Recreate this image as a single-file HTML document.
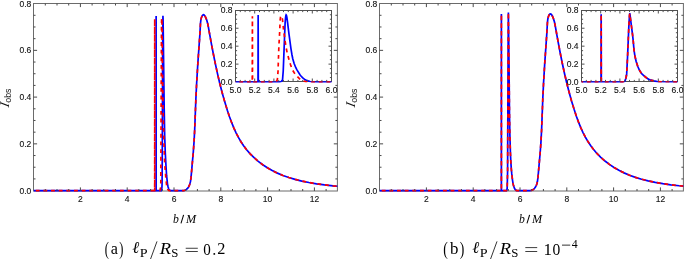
<!DOCTYPE html>
<html><head><meta charset="utf-8"><title>figure</title><style>
html,body{margin:0;padding:0;background:#fff;width:685px;height:259px;overflow:hidden}
svg{display:block;will-change:transform}
.tl{font-family:"Liberation Sans",sans-serif;font-size:8.5px;fill:#111;stroke:#111;stroke-width:0.12px}
.il{font-family:"Liberation Sans",sans-serif;font-size:8.5px;fill:#111;stroke:#111;stroke-width:0.12px}
.ax{font-family:"Liberation Serif",serif;font-style:italic;font-size:13.4px;fill:#111}
.sub{font-family:"Liberation Sans",sans-serif;font-style:normal;font-size:8.8px}
</style></head><body>
<svg width="685" height="259" viewBox="0 0 685 259">
<clipPath id="cma"><rect x="33.5" y="1.5" width="303.9" height="190.5"/></clipPath>
<clipPath id="cia"><rect x="235.5" y="8.5" width="96" height="74"/></clipPath>
<rect x="33.5" y="3.5" width="303.9" height="187.5" fill="none" stroke="#6b6b6b" stroke-width="1"/>
<g clip-path="url(#cma)" fill="none" stroke-width="1.7">
<path stroke="#00f" d="M33.6 190.6L156.09 190.6 156.12 15.99 156.16 190.6 161.32 190.55 161.7 189.27 161.91 187.51 162.03 185.53 162.1 180.3 162.27 153.78 162.69 37.1 162.94 15.76 163.07 18.91 163.2 27.99 164.17 107.37 164.7 136.01 165.29 153.13 166.07 167.53 166.58 175.19 167.48 183.79 168.05 186.77 168.75 189.11 169.01 189.58 169.39 189.95 169.93 190.35 170.42 190.56 183.25 190.57 184.48 190.35 185.47 190.01 186.37 189.5 187.22 188.76 187.96 187.88 188.6 186.9 189.21 185.69 189.75 184.3 190.52 181.37 191.02 177.69 193.31 151.93 194.08 141.27 194.72 129.04 195.84 99.72 196.61 83.72 197.81 63.86 199.82 35.24 200.48 23.37 200.87 19.91 201.48 17.41 201.94 16.31 202.44 15.48 202.95 14.96 203.48 14.76 203.93 14.88 204.37 15.25 204.88 15.93 205.4 16.86 206.56 19.6 207.47 22.64 208.17 25.89 211.03 41.8 213.35 53.98 215.42 64.2 217.49 73.69 219.79 83.45 222.18 92.72 224.68 101.61 227.31 110.19 229.51 116.8 231.68 122.68 233.9 128.1 236.18 133.04 238.57 137.64 241.1 141.95 243.79 145.98 246.62 149.72 250.21 153.84 254.08 157.71 258.28 161.37 262.72 164.74 267.38 167.81 272.22 170.58 277.44 173.13 282.96 175.43 288.82 177.51 295.09 179.39 301.75 181.05 308.91 182.53 316.53 183.83 324.54 184.92 333.05 185.84 342.44 186.61"/>
<path stroke="#f00" stroke-dasharray="3.85 3.8" stroke-dashoffset="5.5" d="M33.6 190.6L154.68 190.6 154.72 19.03 154.75 190.6 159.84 190.6 159.94 190.53 160.39 189.1 160.62 187.53 160.77 185.19 160.83 181.41 161.48 30.03 161.57 21.45 161.74 18.09 161.91 20.85 162.07 28.48 162.48 68.17 163 104.5 163.93 142.24 164.38 156.26 164.86 165.6 165.77 177.31 166.55 184.53 167.12 187.4 167.67 189.23 167.88 189.62 168.35 190.11 168.77 190.43 169.15 190.58 183.17 190.57 184.4 190.37 185.47 190.01 186.37 189.5 187.22 188.76 187.96 187.88 188.6 186.9 189.21 185.69 189.75 184.3 190.52 181.37 191.02 177.69 193.31 151.93 194.08 141.27 194.72 129.04 195.84 99.72 196.61 83.72 197.81 63.86 199.82 35.24 200.48 23.37 200.87 19.91 201.48 17.41 201.94 16.31 202.44 15.48 202.95 14.96 203.48 14.76 203.93 14.88 204.37 15.25 204.88 15.93 205.4 16.86 206.56 19.6 207.47 22.64 208.17 25.89 211.03 41.8 213.35 53.98 215.42 64.2 217.49 73.69 219.79 83.45 222.18 92.72 224.68 101.61 227.31 110.19 229.51 116.8 231.68 122.68 233.9 128.1 236.18 133.04 238.57 137.64 241.1 141.95 243.79 145.98 246.62 149.72 250.21 153.84 254.08 157.71 258.28 161.37 262.72 164.74 267.38 167.81 272.22 170.58 277.44 173.13 282.96 175.43 288.82 177.51 295.09 179.39 301.75 181.05 308.91 182.53 316.53 183.83 324.54 184.92 333.05 185.84 342.44 186.61"/>
</g>
<path d="M45.3 191v-2.0M45.3 3.5v2.0M57 191v-2.0M57 3.5v2.0M68.7 191v-2.0M68.7 3.5v2.0M80.4 191v-3.6M80.4 3.5v3.6M92.1 191v-2.0M92.1 3.5v2.0M103.8 191v-2.0M103.8 3.5v2.0M115.5 191v-2.0M115.5 3.5v2.0M127.2 191v-3.6M127.2 3.5v3.6M138.9 191v-2.0M138.9 3.5v2.0M150.6 191v-2.0M150.6 3.5v2.0M162.3 191v-2.0M162.3 3.5v2.0M174 191v-3.6M174 3.5v3.6M185.7 191v-2.0M185.7 3.5v2.0M197.4 191v-2.0M197.4 3.5v2.0M209.1 191v-2.0M209.1 3.5v2.0M220.8 191v-3.6M220.8 3.5v3.6M232.5 191v-2.0M232.5 3.5v2.0M244.2 191v-2.0M244.2 3.5v2.0M255.9 191v-2.0M255.9 3.5v2.0M267.6 191v-3.6M267.6 3.5v3.6M279.3 191v-2.0M279.3 3.5v2.0M291 191v-2.0M291 3.5v2.0M302.7 191v-2.0M302.7 3.5v2.0M314.4 191v-3.6M314.4 3.5v3.6M326.1 191v-2.0M326.1 3.5v2.0M33.5 178.91h2.0M337.4 178.91h-2.0M33.5 167.22h2.0M337.4 167.22h-2.0M33.5 155.54h2.0M337.4 155.54h-2.0M33.5 143.85h3.6M337.4 143.85h-3.6M33.5 132.16h2.0M337.4 132.16h-2.0M33.5 120.47h2.0M337.4 120.47h-2.0M33.5 108.79h2.0M337.4 108.79h-2.0M33.5 97.1h3.6M337.4 97.1h-3.6M33.5 85.41h2.0M337.4 85.41h-2.0M33.5 73.72h2.0M337.4 73.72h-2.0M33.5 62.04h2.0M337.4 62.04h-2.0M33.5 50.35h3.6M337.4 50.35h-3.6M33.5 38.66h2.0M337.4 38.66h-2.0M33.5 26.97h2.0M337.4 26.97h-2.0M33.5 15.29h2.0M337.4 15.29h-2.0" stroke="#4a4a4a" stroke-width="1" fill="none"/>
<text x="31.3" y="194" class="tl" text-anchor="end">0.0</text>
<text x="31.3" y="147" class="tl" text-anchor="end">0.2</text>
<text x="31.3" y="100" class="tl" text-anchor="end">0.4</text>
<text x="31.3" y="53" class="tl" text-anchor="end">0.6</text>
<text x="31.3" y="6.5" class="tl" text-anchor="end">0.8</text>
<text x="80.4" y="201.7" class="tl" text-anchor="middle">2</text>
<text x="127.2" y="201.7" class="tl" text-anchor="middle">4</text>
<text x="174" y="201.7" class="tl" text-anchor="middle">6</text>
<text x="220.8" y="201.7" class="tl" text-anchor="middle">8</text>
<text x="267.6" y="201.7" class="tl" text-anchor="middle">10</text>
<text x="314.4" y="201.7" class="tl" text-anchor="middle">12</text>
<rect x="235" y="10" width="97" height="72" fill="#fff"/>
<rect x="235.5" y="10.5" width="96" height="71" fill="none" stroke="#505050" stroke-width="1"/>
<g clip-path="url(#cia)" fill="none" stroke-width="1.7">
<path stroke="#00f" d="M231.66 82.05L258.01 82.05 258.16 15.04 258.3 82.05 279.34 82.05 280.11 81.9 281.05 81.54 281.52 81.25 281.91 80.86 282.37 80.1 282.61 78.8 283.23 70.98 285.1 23.15 285.57 17.51 285.88 15.58 286.11 14.96 286.35 15.27 286.58 15.88 286.89 17.5 287.59 22.57 288.92 33.67 290.95 48.55 291.96 54.75 292.82 59.02 294.14 63.59 295.7 67.5 296.94 69.88 300.14 74.98 301 76.05 302.48 77.57 303.72 78.68 304.81 79.49 305.83 80.06 307.23 80.64 310.03 81.49 312.76 81.81 316.81 82.03 334.22 82.05"/>
<path stroke="#f00" stroke-dasharray="3.85 3.8" stroke-dashoffset="0.0" d="M231.66 82.05L252.25 82.05 252.4 16.21 252.54 82.05 273.58 82.05 274.51 81.88 275.84 81.41 276.46 81.02 276.93 80.52 277.24 79.98 277.47 78.52 278.02 71.46 278.87 46.6 279.73 30.85 280.12 20.43 280.51 17.14 280.9 16.13 281.21 15.85 281.52 16.13 281.91 16.91 282.46 19.34 283.47 28.8 284.8 39.07 286.12 47.71 287.29 53.34 289.08 59.89 290.56 64.73 291.65 67.9 292.35 69.58 293.13 71.06 294.07 72.57 295.16 74.06 298.2 77.43 299.37 78.54 300.46 79.41 301.47 80.03 302.87 80.66 304.27 81.19 305.6 81.54 308.48 81.88 311.68 82.04 334.22 82.05"/>
</g>
<path d="M240.3 81.5v-1.6M240.3 10.5v1.6M245.1 81.5v-1.6M245.1 10.5v1.6M249.9 81.5v-1.6M249.9 10.5v1.6M254.7 81.5v-3.0M254.7 10.5v3.0M259.5 81.5v-1.6M259.5 10.5v1.6M264.3 81.5v-1.6M264.3 10.5v1.6M269.1 81.5v-1.6M269.1 10.5v1.6M273.9 81.5v-3.0M273.9 10.5v3.0M278.7 81.5v-1.6M278.7 10.5v1.6M283.5 81.5v-1.6M283.5 10.5v1.6M288.3 81.5v-1.6M288.3 10.5v1.6M293.1 81.5v-3.0M293.1 10.5v3.0M297.9 81.5v-1.6M297.9 10.5v1.6M302.7 81.5v-1.6M302.7 10.5v1.6M307.5 81.5v-1.6M307.5 10.5v1.6M312.3 81.5v-3.0M312.3 10.5v3.0M317.1 81.5v-1.6M317.1 10.5v1.6M321.9 81.5v-1.6M321.9 10.5v1.6M326.7 81.5v-1.6M326.7 10.5v1.6M235.5 77.56h1.6M331.5 77.56h-1.6M235.5 73.08h1.6M331.5 73.08h-1.6M235.5 68.59h1.6M331.5 68.59h-1.6M235.5 64.11h3.0M331.5 64.11h-3.0M235.5 59.62h1.6M331.5 59.62h-1.6M235.5 55.14h1.6M331.5 55.14h-1.6M235.5 50.65h1.6M331.5 50.65h-1.6M235.5 46.17h3.0M331.5 46.17h-3.0M235.5 41.68h1.6M331.5 41.68h-1.6M235.5 37.2h1.6M331.5 37.2h-1.6M235.5 32.71h1.6M331.5 32.71h-1.6M235.5 28.23h3.0M331.5 28.23h-3.0M235.5 23.74h1.6M331.5 23.74h-1.6M235.5 19.26h1.6M331.5 19.26h-1.6M235.5 14.77h1.6M331.5 14.77h-1.6" stroke="#505050" stroke-width="1" fill="none"/>
<text transform="translate(232.5 85.35) scale(1.0 1)" class="il" text-anchor="end">0.0</text>
<text transform="translate(232.5 67.37) scale(1.0 1)" class="il" text-anchor="end">0.2</text>
<text transform="translate(232.5 49.39) scale(1.0 1)" class="il" text-anchor="end">0.4</text>
<text transform="translate(232.5 31.41) scale(1.0 1)" class="il" text-anchor="end">0.6</text>
<text transform="translate(232.5 13.43) scale(1.0 1)" class="il" text-anchor="end">0.8</text>
<text transform="translate(235.5 92.9) scale(1.0 1)" class="il" text-anchor="middle">5.0</text>
<text transform="translate(254.7 92.9) scale(1.0 1)" class="il" text-anchor="middle">5.2</text>
<text transform="translate(273.9 92.9) scale(1.0 1)" class="il" text-anchor="middle">5.4</text>
<text transform="translate(293.1 92.9) scale(1.0 1)" class="il" text-anchor="middle">5.6</text>
<text transform="translate(312.3 92.9) scale(1.0 1)" class="il" text-anchor="middle">5.8</text>
<text transform="translate(331.5 92.9) scale(1.0 1)" class="il" text-anchor="middle">6.0</text>
<g transform="translate(8.5 106.4) rotate(-90)"><text class="ax" transform="translate(-1.3 0) skewX(-12)">I</text><text class="ax sub" x="3.7" y="2.5">obs</text></g>
<text transform="matrix(0.11708 0 0 0.11654 173.08 222.99)" style="font-family:&quot;Liberation Serif&quot;,serif;font-style:italic;font-size:100px" fill="#000">b</text>
<path d="M183.6 214.9L181 223.3" stroke="#000" stroke-width="1.05"/>
<text transform="matrix(0.12194 0 0 0.12218 185.94 223.10)" style="font-family:&quot;Liberation Serif&quot;,serif;font-style:italic;font-size:100px" fill="#000">M</text>
<clipPath id="cmb"><rect x="379.5" y="1.5" width="303.9" height="190.5"/></clipPath>
<clipPath id="cib"><rect x="581.5" y="8.5" width="96" height="74"/></clipPath>
<rect x="379.5" y="3.5" width="303.9" height="187.5" fill="none" stroke="#6b6b6b" stroke-width="1"/>
<g clip-path="url(#cmb)" fill="none" stroke-width="1.7">
<path stroke="#00f" d="M379.6 190.6L501.36 190.6 501.4 14.12 501.43 190.6 506.55 190.6 506.67 190.51 507.05 189.39 507.21 187.17 507.59 171.58 508.15 42.19 508.38 12.58 509.03 65.54 509.51 115.65 509.86 134.32 510.45 153.63 510.82 161.59 511.28 168.54 511.78 173.91 512.51 180.12 513.01 183.42 513.49 185.61 514.41 188.21 514.85 189.07 515.29 189.64 516.23 190.37 516.94 190.6 529.79 190.6 531.04 190.44 532.07 190.15 532.94 189.74 533.77 189.12 534.56 188.3 535.29 187.29 535.94 186.1 536.53 184.71 537.02 183.22 537.41 181.55 537.98 177.39 540.22 152.05 540.95 142.12 541.64 129.04 542.77 99.27 543.55 83.03 544.75 63.15 546.75 34.47 547.43 22.45 547.82 18.96 548.45 16.46 548.87 15.44 549.38 14.6 549.89 14.08 550.42 13.88 550.86 14.01 551.3 14.37 551.81 15.05 552.33 15.99 553.49 18.74 554.41 21.8 555.1 25.07 557.97 41.06 560.27 53.22 562.34 63.49 564.39 72.95 566.69 82.76 569.06 92.01 571.55 100.94 574.17 109.56 576.37 116.21 578.53 122.12 580.75 127.57 583.01 132.54 585.43 137.23 587.96 141.58 590.59 145.57 593.41 149.33 596.93 153.43 600.79 157.34 604.98 161.03 609.4 164.43 614.05 167.54 618.88 170.33 624.02 172.88 629.53 175.22 635.39 177.33 641.58 179.21 648.15 180.88 655.23 182.38 662.78 183.69 670.71 184.8 679.14 185.73 688.44 186.52"/>
<path stroke="#f00" stroke-dasharray="3.85 3.8" stroke-dashoffset="5.5" d="M379.6 190.6L501.36 190.6 501.4 14.12 501.43 190.6 506.55 190.6 506.67 190.51 507.05 189.39 507.21 187.17 507.59 171.58 508.15 42.19 508.38 12.58 509.03 65.54 509.51 115.65 509.86 134.32 510.45 153.63 510.82 161.59 511.28 168.54 511.78 173.91 512.51 180.12 513.01 183.42 513.49 185.61 514.41 188.21 514.85 189.07 515.29 189.64 516.23 190.37 516.94 190.6 529.79 190.6 531.04 190.44 532.07 190.15 532.94 189.74 533.77 189.12 534.56 188.3 535.29 187.29 535.94 186.1 536.53 184.71 537.02 183.22 537.41 181.55 537.98 177.39 540.22 152.05 540.95 142.12 541.64 129.04 542.77 99.27 543.55 83.03 544.75 63.15 546.75 34.47 547.43 22.45 547.82 18.96 548.45 16.46 548.87 15.44 549.38 14.6 549.89 14.08 550.42 13.88 550.86 14.01 551.3 14.37 551.81 15.05 552.33 15.99 553.49 18.74 554.41 21.8 555.1 25.07 557.97 41.06 560.27 53.22 562.34 63.49 564.39 72.95 566.69 82.76 569.06 92.01 571.55 100.94 574.17 109.56 576.37 116.21 578.53 122.12 580.75 127.57 583.01 132.54 585.43 137.23 587.96 141.58 590.59 145.57 593.41 149.33 596.93 153.43 600.79 157.34 604.98 161.03 609.4 164.43 614.05 167.54 618.88 170.33 624.02 172.88 629.53 175.22 635.39 177.33 641.58 179.21 648.15 180.88 655.23 182.38 662.78 183.69 670.71 184.8 679.14 185.73 688.44 186.52"/>
</g>
<path d="M391.3 191v-2.0M391.3 3.5v2.0M403 191v-2.0M403 3.5v2.0M414.7 191v-2.0M414.7 3.5v2.0M426.4 191v-3.6M426.4 3.5v3.6M438.1 191v-2.0M438.1 3.5v2.0M449.8 191v-2.0M449.8 3.5v2.0M461.5 191v-2.0M461.5 3.5v2.0M473.2 191v-3.6M473.2 3.5v3.6M484.9 191v-2.0M484.9 3.5v2.0M496.6 191v-2.0M496.6 3.5v2.0M508.3 191v-2.0M508.3 3.5v2.0M520 191v-3.6M520 3.5v3.6M531.7 191v-2.0M531.7 3.5v2.0M543.4 191v-2.0M543.4 3.5v2.0M555.1 191v-2.0M555.1 3.5v2.0M566.8 191v-3.6M566.8 3.5v3.6M578.5 191v-2.0M578.5 3.5v2.0M590.2 191v-2.0M590.2 3.5v2.0M601.9 191v-2.0M601.9 3.5v2.0M613.6 191v-3.6M613.6 3.5v3.6M625.3 191v-2.0M625.3 3.5v2.0M637 191v-2.0M637 3.5v2.0M648.7 191v-2.0M648.7 3.5v2.0M660.4 191v-3.6M660.4 3.5v3.6M672.1 191v-2.0M672.1 3.5v2.0M379.5 178.91h2.0M683.4 178.91h-2.0M379.5 167.22h2.0M683.4 167.22h-2.0M379.5 155.54h2.0M683.4 155.54h-2.0M379.5 143.85h3.6M683.4 143.85h-3.6M379.5 132.16h2.0M683.4 132.16h-2.0M379.5 120.47h2.0M683.4 120.47h-2.0M379.5 108.79h2.0M683.4 108.79h-2.0M379.5 97.1h3.6M683.4 97.1h-3.6M379.5 85.41h2.0M683.4 85.41h-2.0M379.5 73.72h2.0M683.4 73.72h-2.0M379.5 62.04h2.0M683.4 62.04h-2.0M379.5 50.35h3.6M683.4 50.35h-3.6M379.5 38.66h2.0M683.4 38.66h-2.0M379.5 26.97h2.0M683.4 26.97h-2.0M379.5 15.29h2.0M683.4 15.29h-2.0" stroke="#4a4a4a" stroke-width="1" fill="none"/>
<text x="377.3" y="194" class="tl" text-anchor="end">0.0</text>
<text x="377.3" y="147" class="tl" text-anchor="end">0.2</text>
<text x="377.3" y="100" class="tl" text-anchor="end">0.4</text>
<text x="377.3" y="53" class="tl" text-anchor="end">0.6</text>
<text x="377.3" y="6.5" class="tl" text-anchor="end">0.8</text>
<text x="426.4" y="201.7" class="tl" text-anchor="middle">2</text>
<text x="473.2" y="201.7" class="tl" text-anchor="middle">4</text>
<text x="520" y="201.7" class="tl" text-anchor="middle">6</text>
<text x="566.8" y="201.7" class="tl" text-anchor="middle">8</text>
<text x="613.6" y="201.7" class="tl" text-anchor="middle">10</text>
<text x="660.4" y="201.7" class="tl" text-anchor="middle">12</text>
<rect x="581" y="10" width="97" height="72" fill="#fff"/>
<rect x="581.5" y="10.5" width="96" height="71" fill="none" stroke="#505050" stroke-width="1"/>
<g clip-path="url(#cib)" fill="none" stroke-width="1.7">
<path stroke="#00f" d="M577.66 82.05L601.04 82.05 601.18 14.33 601.32 82.05 622.47 82.05 623.93 81.75 624.44 81.53 624.7 81.29 625.3 80.14 625.81 78.49 626.41 75.77 626.67 73.89 627.52 57.36 628.89 25.1 629.49 15.65 629.66 14.08 629.75 13.74 629.83 13.74 630.09 15.06 630.52 18.97 632.57 34.79 633.17 40.32 634.03 50.25 634.97 56.29 636.17 61.41 637.8 66.56 639.17 69.71 640.11 71.33 641.05 72.72 642.16 74.08 643.27 75.19 645.42 77.01 647.38 78.43 648.75 79.25 650.12 79.89 653.72 80.94 657.4 81.6 662.88 82 680.28 82.05"/>
<path stroke="#f00" stroke-dasharray="3.85 3.8" stroke-dashoffset="6.0" d="M577.66 82.05L601.04 82.05 601.18 14.33 601.32 82.05 622.47 82.05 623.93 81.75 624.44 81.53 624.7 81.29 625.3 80.14 625.81 78.49 626.41 75.77 626.67 73.89 627.52 57.36 628.89 25.1 629.49 15.65 629.66 14.08 629.75 13.74 629.83 13.74 630.09 15.06 630.52 18.97 632.57 34.79 633.17 40.32 634.03 50.25 634.97 56.29 636.17 61.41 637.8 66.56 639.17 69.71 640.11 71.33 641.05 72.72 642.16 74.08 643.27 75.19 645.42 77.01 647.38 78.43 648.75 79.25 650.12 79.89 653.72 80.94 657.4 81.6 662.88 82 680.28 82.05"/>
</g>
<path d="M586.3 81.5v-1.6M586.3 10.5v1.6M591.1 81.5v-1.6M591.1 10.5v1.6M595.9 81.5v-1.6M595.9 10.5v1.6M600.7 81.5v-3.0M600.7 10.5v3.0M605.5 81.5v-1.6M605.5 10.5v1.6M610.3 81.5v-1.6M610.3 10.5v1.6M615.1 81.5v-1.6M615.1 10.5v1.6M619.9 81.5v-3.0M619.9 10.5v3.0M624.7 81.5v-1.6M624.7 10.5v1.6M629.5 81.5v-1.6M629.5 10.5v1.6M634.3 81.5v-1.6M634.3 10.5v1.6M639.1 81.5v-3.0M639.1 10.5v3.0M643.9 81.5v-1.6M643.9 10.5v1.6M648.7 81.5v-1.6M648.7 10.5v1.6M653.5 81.5v-1.6M653.5 10.5v1.6M658.3 81.5v-3.0M658.3 10.5v3.0M663.1 81.5v-1.6M663.1 10.5v1.6M667.9 81.5v-1.6M667.9 10.5v1.6M672.7 81.5v-1.6M672.7 10.5v1.6M581.5 77.56h1.6M677.5 77.56h-1.6M581.5 73.08h1.6M677.5 73.08h-1.6M581.5 68.59h1.6M677.5 68.59h-1.6M581.5 64.11h3.0M677.5 64.11h-3.0M581.5 59.62h1.6M677.5 59.62h-1.6M581.5 55.14h1.6M677.5 55.14h-1.6M581.5 50.65h1.6M677.5 50.65h-1.6M581.5 46.17h3.0M677.5 46.17h-3.0M581.5 41.68h1.6M677.5 41.68h-1.6M581.5 37.2h1.6M677.5 37.2h-1.6M581.5 32.71h1.6M677.5 32.71h-1.6M581.5 28.23h3.0M677.5 28.23h-3.0M581.5 23.74h1.6M677.5 23.74h-1.6M581.5 19.26h1.6M677.5 19.26h-1.6M581.5 14.77h1.6M677.5 14.77h-1.6" stroke="#505050" stroke-width="1" fill="none"/>
<text transform="translate(578.5 85.35) scale(1.0 1)" class="il" text-anchor="end">0.0</text>
<text transform="translate(578.5 67.37) scale(1.0 1)" class="il" text-anchor="end">0.2</text>
<text transform="translate(578.5 49.39) scale(1.0 1)" class="il" text-anchor="end">0.4</text>
<text transform="translate(578.5 31.41) scale(1.0 1)" class="il" text-anchor="end">0.6</text>
<text transform="translate(578.5 13.43) scale(1.0 1)" class="il" text-anchor="end">0.8</text>
<text transform="translate(581.5 92.9) scale(1.0 1)" class="il" text-anchor="middle">5.0</text>
<text transform="translate(600.7 92.9) scale(1.0 1)" class="il" text-anchor="middle">5.2</text>
<text transform="translate(619.9 92.9) scale(1.0 1)" class="il" text-anchor="middle">5.4</text>
<text transform="translate(639.1 92.9) scale(1.0 1)" class="il" text-anchor="middle">5.6</text>
<text transform="translate(658.3 92.9) scale(1.0 1)" class="il" text-anchor="middle">5.8</text>
<text transform="translate(677.5 92.9) scale(1.0 1)" class="il" text-anchor="middle">6.0</text>
<g transform="translate(354.5 106.4) rotate(-90)"><text class="ax" transform="translate(-1.3 0) skewX(-12)">I</text><text class="ax sub" x="3.7" y="2.5">obs</text></g>
<text transform="matrix(0.11708 0 0 0.11654 519.08 222.99)" style="font-family:&quot;Liberation Serif&quot;,serif;font-style:italic;font-size:100px" fill="#000">b</text>
<path d="M529.6 214.9L527 223.3" stroke="#000" stroke-width="1.05"/>
<text transform="matrix(0.12194 0 0 0.12218 531.94 223.10)" style="font-family:&quot;Liberation Serif&quot;,serif;font-style:italic;font-size:100px" fill="#000">M</text>
<text transform="matrix(0.12459 0 0 0.19741 104.85 255.10)" style="font-family:&quot;Liberation Serif&quot;,serif;font-style:normal;font-size:100px" fill="#000">(</text>
<text transform="matrix(0.16166 0 0 0.15657 110.79 253.75)" style="font-family:&quot;Liberation Serif&quot;,serif;font-style:normal;font-size:100px" fill="#000">a</text>
<text transform="matrix(0.12459 0 0 0.19741 119.30 255.10)" style="font-family:&quot;Liberation Serif&quot;,serif;font-style:normal;font-size:100px" fill="#000">)</text>
<text transform="matrix(0.16711 0 0 0.16437 132.14 253.34)" style="font-family:&quot;Liberation Serif&quot;,serif;font-style:italic;font-size:100px" fill="#000">ℓ</text>
<text transform="matrix(0.14088 0 0 0.12829 139.81 257.20)" style="font-family:&quot;Liberation Serif&quot;,serif;font-style:normal;font-size:100px" fill="#000">P</text>
<path d="M157 241.4L150.2 260" stroke="#000" stroke-width="0.8"/>
<text transform="matrix(0.18505 0 0 0.17563 159.85 254.30)" style="font-family:&quot;Liberation Serif&quot;,serif;font-style:italic;font-size:100px" fill="#000">R</text>
<text transform="matrix(0.12804 0 0 0.11907 171.36 256.68)" style="font-family:&quot;Liberation Serif&quot;,serif;font-style:normal;font-size:100px" fill="#000">S</text>
<text transform="matrix(0.16711 0 0 0.16437 472.14 253.34)" style="font-family:&quot;Liberation Serif&quot;,serif;font-style:italic;font-size:100px" fill="#000">ℓ</text>
<text transform="matrix(0.14088 0 0 0.12829 479.81 257.20)" style="font-family:&quot;Liberation Serif&quot;,serif;font-style:normal;font-size:100px" fill="#000">P</text>
<path d="M497 241.4L490.2 260" stroke="#000" stroke-width="0.8"/>
<text transform="matrix(0.18505 0 0 0.17563 499.85 254.30)" style="font-family:&quot;Liberation Serif&quot;,serif;font-style:italic;font-size:100px" fill="#000">R</text>
<text transform="matrix(0.12804 0 0 0.11907 511.36 256.68)" style="font-family:&quot;Liberation Serif&quot;,serif;font-style:normal;font-size:100px" fill="#000">S</text>
<rect x="185.7" y="247.82" width="12.1" height="0.75" fill="#000"/>
<rect x="185.7" y="251.22" width="12.1" height="0.75" fill="#000"/>
<text transform="matrix(0.15100 0 0 0.16449 203.32 254.54)" style="font-family:&quot;Liberation Serif&quot;,serif;font-style:normal;font-size:100px" fill="#000">0</text>
<circle cx="214.3" cy="253.9" r="0.95" fill="#000"/>
<text transform="matrix(0.16287 0 0 0.16009 217.27 254.20)" style="font-family:&quot;Liberation Serif&quot;,serif;font-style:normal;font-size:100px" fill="#000">2</text>
<text transform="matrix(0.13627 0 0 0.19741 443.30 255.10)" style="font-family:&quot;Liberation Serif&quot;,serif;font-style:normal;font-size:100px" fill="#000">(</text>
<text transform="matrix(0.16886 0 0 0.17339 449.90 253.73)" style="font-family:&quot;Liberation Serif&quot;,serif;font-style:normal;font-size:100px" fill="#000">b</text>
<text transform="matrix(0.13627 0 0 0.19741 459.66 255.10)" style="font-family:&quot;Liberation Serif&quot;,serif;font-style:normal;font-size:100px" fill="#000">)</text>
<rect x="525.3" y="247.32" width="11.9" height="0.75" fill="#000"/>
<rect x="525.3" y="251.22" width="11.9" height="0.75" fill="#000"/>
<text transform="matrix(0.17036 0 0 0.16663 543.50 254.50)" style="font-family:&quot;Liberation Serif&quot;,serif;font-style:normal;font-size:100px" fill="#000">1</text>
<text transform="matrix(0.15572 0 0 0.16597 552.61 254.54)" style="font-family:&quot;Liberation Serif&quot;,serif;font-style:normal;font-size:100px" fill="#000">0</text>
<rect x="562" y="244.7" width="8.2" height="0.8" fill="#000"/>
<text transform="matrix(0.11832 0 0 0.12306 571.77 247.70)" style="font-family:&quot;Liberation Serif&quot;,serif;font-style:normal;font-size:100px" fill="#000">4</text>
</svg>
</body></html>
